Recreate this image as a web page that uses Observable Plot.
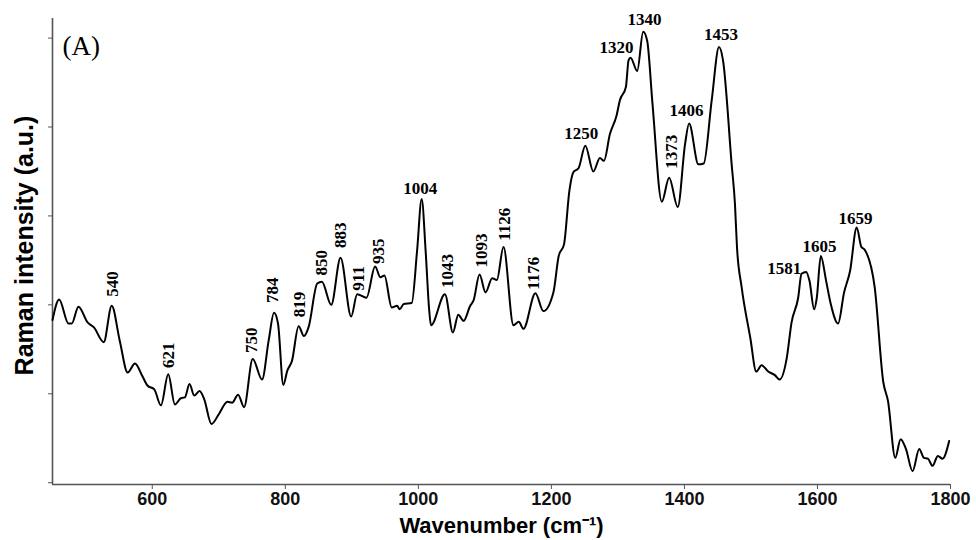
<!DOCTYPE html>
<html><head><meta charset="utf-8">
<script src="https://cdn.jsdelivr.net/npm/d3@7"></script>
<script src="https://cdn.jsdelivr.net/npm/@observablehq/plot@0.6"></script>
<style>body{margin:0;background:#fff}</style>
</head><body><div id="chart"></div>
<script>
// Raman spectrum (A): wavenumber (cm-1) and intensity (a.u.)
const wavenumber = [450,460,474,479,489,503,512,527,539,551,
  563,574,585,593,603,613,624,634,643,649,
  656,663,671,678,689,700,713,720,729,738,
  751,765,775,783,789,797,803,810,820,828,
  835,848,855,869,883,899,908,922,935,943,
  949,960,968,972,978,990,998,1005,1011,1016,1019,1040,1052,
  1060,1068,1078,1083,1092,1101,1111,1118,1128,1143,
  1151,1158,1176,1188,1203,1211,1219,1227,1233,1241,
  1251,1263,1273,1279,1288,1298,1303,1312,1316,1319,
  1329,1338,1344,1352,1366,1377,1390,1401,1407,1421,
  1429,1441,1452,1458,1471,1476,1479,1486,1499,1508,
  1516,1526,1536,1543,1554,1561,1571,1576,1583,1588,
  1595,1599,1605,1613,1620,1631,1640,1649,1659,1666,
  1671,1686,1699,1706,1717,1725,1733,1743,1753,1760,
  1766,1773,1781,1788,1798];
const intensity = [1.83,2.06,1.79,1.79,1.98,1.80,1.75,1.58,1.99,1.60,
  1.24,1.34,1.20,1.09,1.05,0.87,1.22,0.88,0.95,0.96,
  1.11,0.98,1.03,0.94,0.66,0.77,0.91,0.90,0.99,0.85,
  1.39,1.16,1.60,1.91,1.79,1.10,1.26,1.37,1.76,1.65,
  1.75,2.24,2.26,2.00,2.53,1.87,2.12,2.08,2.43,2.31,
  2.33,1.97,1.99,1.95,2.01,2.02,2.60,3.19,2.60,1.97,1.77,2.12,1.69,
  1.89,1.82,1.99,2.05,2.34,2.14,2.30,2.28,2.65,1.77,
  1.81,1.73,2.13,1.93,2.14,2.55,2.68,3.28,3.49,3.54,
  3.79,3.50,3.65,3.62,3.92,4.13,4.30,4.45,4.75,4.78,
  4.63,5.07,4.97,4.26,3.16,3.43,3.10,3.81,4.04,3.58,
  3.59,4.30,4.90,4.75,3.58,3.13,2.65,2.20,1.63,1.25,
  1.32,1.25,1.21,1.16,1.41,1.80,2.08,2.35,2.37,2.27,
  1.95,2.08,2.55,2.27,2.01,1.79,2.14,2.38,2.87,2.65,
  2.62,2.20,1.13,0.92,0.28,0.49,0.38,0.13,0.38,0.28,
  0.27,0.19,0.30,0.27,0.47];

// Peak labels written horizontally (label, anchor wavenumber, anchor intensity)
const hLabel = ["1004","1250","1320","1340","1406","1453","1581","1605","1659"];
const hX = [1003,1245,1298,1340,1403,1455,1550,1603,1657];
const hY = [3.25,3.87,4.83,5.15,4.12,4.98,2.35,2.59,2.91];

// Peak labels written vertically
const vLabel = ["540","621","750","784","819","850","883","911","935","1043","1093","1126","1176","1373"];
const vX = [540,625,749,781,821,854,883,910,940,1044,1095,1130,1173,1381];
const vY = [2.09,1.29,1.46,2.02,1.86,2.33,2.64,2.16,2.46,2.19,2.42,2.72,2.17,3.53];

const xTicks = [600,800,1000,1200,1400,1600,1800];
const yTicks = [0,1,2,3,4,5];

const spectrum = wavenumber.map((w, i) => ({w, v: intensity[i]}));
const hPeaks = hLabel.map((t, i) => ({t, x: hX[i], y: hY[i]}));
const vPeaks = vLabel.map((t, i) => ({t, x: vX[i], y: vY[i]}));

const serif = "'Liberation Serif', 'Times New Roman', serif";
const sans = "'Liberation Sans', Arial, sans-serif";

const chart = Plot.plot({
  width: 976, height: 540,
  marginLeft: 52, marginRight: 26, marginTop: 18, marginBottom: 56,
  style: {fontFamily: sans, background: "#fff", color: "#111"},
  x: {domain: [450, 1800]},
  y: {domain: [-0.02, 5.22]},
  marks: [
    Plot.axisX({ticks: xTicks, tickSize: 5, tickPadding: 3, fontSize: 18, fontWeight: "bold", label: null, tickFormat: d => String(d), stroke: "#555"}),
    Plot.axisY({ticks: yTicks, tickSize: 4, tickFormat: () => "", label: null, stroke: "#555"}),
    Plot.ruleX([450], {stroke: "#555", strokeWidth: 1.6}),
    Plot.ruleY([-0.02], {stroke: "#555", strokeWidth: 1.6}),
    Plot.line(spectrum, {x: "w", y: "v", stroke: "#000", strokeWidth: 2, curve: "monotone-x", strokeLinejoin: "round"}),
    Plot.text(hPeaks, {x: "x", y: "y", text: "t", lineAnchor: "bottom", textAnchor: "middle", fontFamily: serif, fontWeight: "bold", fontSize: 17, fill: "#000"}),
    Plot.text(vPeaks, {x: "x", y: "y", text: "t", rotate: -90, textAnchor: "start", lineAnchor: "middle", fontFamily: serif, fontWeight: "bold", fontSize: 17, fill: "#000"}),
    Plot.text(["(A)"], {text: d => d, frameAnchor: "top-left", dx: 10, dy: 17, lineAnchor: "top", textAnchor: "start", fontFamily: serif, fontSize: 27, fill: "#000"}),
    Plot.text(["Wavenumber (cm⁻¹)"], {text: d => d, frameAnchor: "bottom", dy: 41, lineAnchor: "middle", textAnchor: "middle", fontSize: 22, fontWeight: "bold", fill: "#000"}),
    Plot.text(["Raman intensity (a.u.)"], {text: d => d, frameAnchor: "left", dx: -28, dy: -6, rotate: -90, lineAnchor: "middle", textAnchor: "middle", fontSize: 25, fontWeight: "bold", fill: "#000"})
  ]
});
document.getElementById("chart").appendChild(chart);
</script>
</body></html>
